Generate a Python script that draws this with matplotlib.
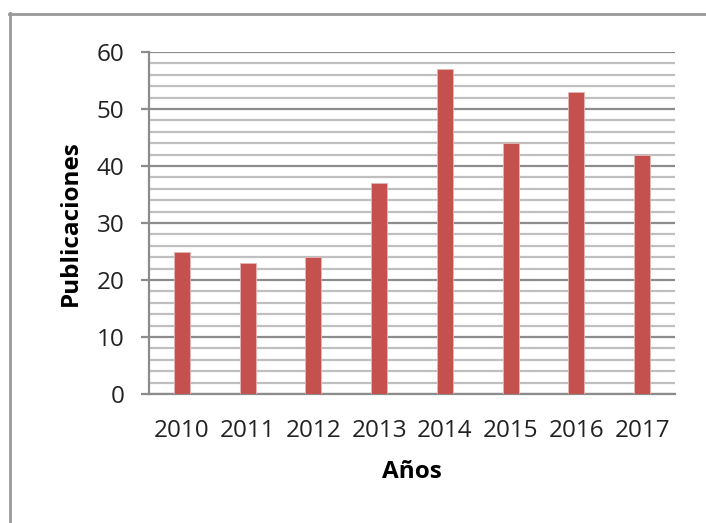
import matplotlib
matplotlib.use("Agg")
import matplotlib.pyplot as plt
from matplotlib.lines import Line2D
import numpy as np

years = ["2010", "2011", "2012", "2013", "2014", "2015", "2016", "2017"]
publicaciones = [25, 23, 24, 37, 57, 44, 53, 42]

plt.rcParams['font.family'] = ['Open Sans', 'DejaVu Sans']

W, H = 706, 523
fig = plt.figure(figsize=(W / 100, H / 100), dpi=100)
ax = fig.add_axes([149 / W, 1 - 394 / H, (675 - 149) / W, (394 - 52) / H])

x = np.arange(len(years))
ax.bar(x, publicaciones, width=0.24, color='#C4514E', edgecolor='#E6B5B4', linewidth=0.6, zorder=3)

ax.set_xlim(-0.5, len(years) - 0.5)
ax.set_ylim(0, 60)
ax.set_yticks(np.arange(0, 61, 10))
ax.set_yticks(np.arange(0, 61, 2), minor=True)
ax.grid(axis='y', which='minor', color='#BFBFBF', linewidth=1.6, zorder=1)
ax.grid(axis='y', which='major', color='#8C8C8C', linewidth=1.6, zorder=2)
ax.set_xticks(x)
ax.set_xticklabels(years)
ax.tick_params(axis='x', length=0, pad=18, labelsize=17.5, colors='#222222')
ax.tick_params(axis='y', which='major', length=5.8, width=1.6, color='#8C8C8C', pad=12, labelsize=17.5, labelcolor='#222222')
ax.tick_params(axis='y', which='minor', length=0)

for s in ['top', 'right']:
    ax.spines[s].set_visible(False)
for s in ['left', 'bottom']:
    ax.spines[s].set_color('#8C8C8C')
    ax.spines[s].set_linewidth(1.6)

ax.set_xlabel('Años', fontsize=17.5, fontweight='bold', labelpad=12)
ax.set_ylabel('Publicaciones', fontsize=17.5, fontweight='bold', labelpad=10)

# outer frame (top and left lines)
fig.add_artist(Line2D([10 / W, 10 / W], [0, 1 - 13 / H], transform=fig.transFigure, color='#999999', linewidth=2))
fig.add_artist(Line2D([9 / W, 1], [1 - 13.5 / H, 1 - 13.5 / H], transform=fig.transFigure, color='#999999', linewidth=2))

fig.savefig('out.png', dpi=100)
